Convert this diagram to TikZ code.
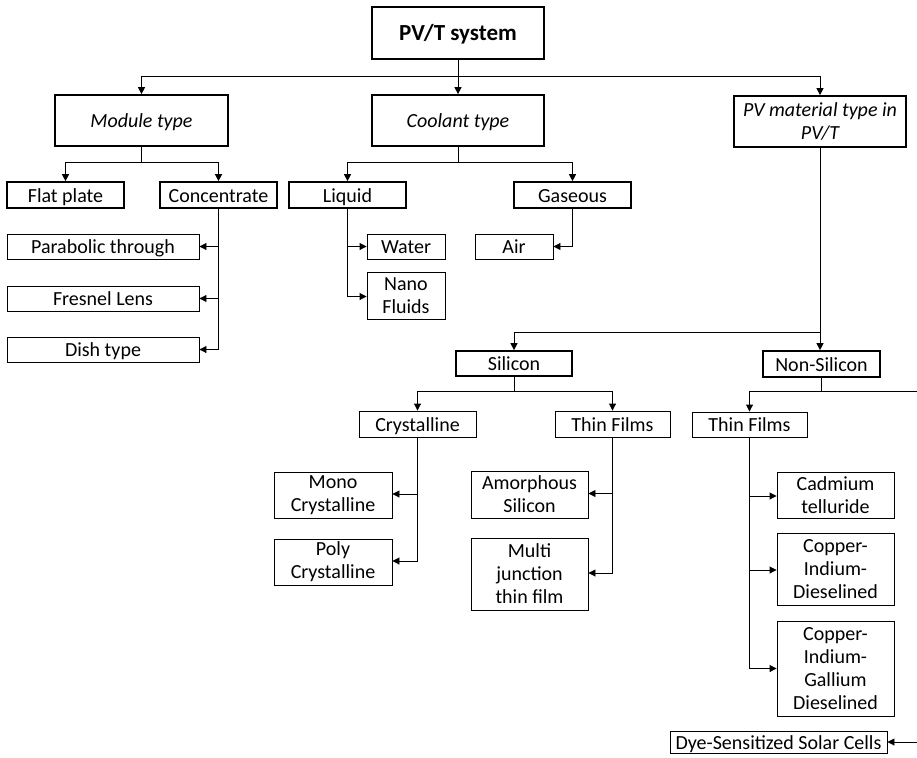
\documentclass[tikz,border=0pt]{standalone}
\usepackage{fontspec}
\setmainfont{Carlito}
\usetikzlibrary{arrows.meta}

\begin{document}
\begin{tikzpicture}[x=1pt, y=-1pt,
    box/.style={draw, line width=0.9pt, inner sep=0pt, align=center, font=\fontsize{20}{23}\selectfont},
    bigbox/.style={box, line width=1.7pt},
    oneline/.style={text height=17pt, text depth=3pt},
    headline/.style={text height=18pt, text depth=3pt, font=\fontsize{20}{23}\selectfont\itshape},
    arr/.style={-{Triangle[length=7pt,width=7pt]}, line width=0.9pt}]
    \useasboundingbox (0,0) rectangle (917,757);
    \clip (0,0) rectangle (917,757);
    % top level
    \node (sys) [bigbox, minimum width=172pt, minimum height=52pt, text height=20pt, text depth=4pt, font=\fontsize{23}{26}\selectfont\bfseries] at (458,33) {PV/T system};
    \node (module) [bigbox, headline, minimum width=173pt, minimum height=51pt] at (141.5,120.5) {Module type};
    \node (coolant) [bigbox, headline, minimum width=172pt, minimum height=51pt] at (458,120.5) {Coolant type};
    \node (pvmat) [bigbox, minimum width=172pt, minimum height=51pt, font=\fontsize{20}{23}\selectfont\itshape] at (820,121.5) {PV material type in\\PV/T};
    \draw[arr] (sys.south) -- ++(0,17) -| (module.north);
    \draw[arr] (sys.south) -- (coolant.north);
    \draw[arr] (sys.south) -- ++(0,17) -| (pvmat.north);
    % module type
    \node (flat) [bigbox, oneline, minimum width=117pt, minimum height=26pt] at (65.5,195) {Flat plate};
    \node (conc) [bigbox, oneline, minimum width=117pt, minimum height=26pt] at (218.5,195) {Concentrate};
    \node (parab) [box, oneline, minimum width=192pt, minimum height=25pt] at (103,246.5) {Parabolic through};
    \node (fresnel) [box, oneline, minimum width=192pt, minimum height=25pt] at (103,298.5) {Fresnel Lens};
    \node (dish) [box, oneline, minimum width=192pt, minimum height=25pt] at (103,349.5) {Dish type};
    \draw[arr] (module.south) -- ++(0,16) -| (flat.north);
    \draw[arr] (module.south) -- ++(0,16) -| (conc.north);
    \draw[arr] (conc.south) |- (parab.east);
    \draw[arr] (conc.south) |- (fresnel.east);
    \draw[arr] (conc.south) |- (dish.east);
    % coolant type
    \node (liquid) [bigbox, oneline, minimum width=117pt, minimum height=26pt] at (347.5,195) {Liquid};
    \node (gaseous) [bigbox, oneline, minimum width=117pt, minimum height=26pt] at (572.5,195) {Gaseous};
    \node (water) [box, oneline, minimum width=78pt, minimum height=25pt] at (406,246.5) {Water};
    \node (nano) [box, minimum width=78pt, minimum height=47pt] at (406,295.5) {Nano\\Fluids};
    \node (air) [box, oneline, minimum width=78pt, minimum height=25pt] at (514,246.5) {Air};
    \draw[arr] (coolant.south) -- ++(0,16) -| (liquid.north);
    \draw[arr] (coolant.south) -- ++(0,16) -| (gaseous.north);
    \draw[arr] (liquid.south) |- (water.west);
    \draw[arr] (liquid.south) |- ([yshift=-1pt]nano.west);
    \draw[arr] (gaseous.south) |- (air.east);
    % PV material
    \node (silicon) [bigbox, oneline, minimum width=116pt, minimum height=25pt] at (514,363.5) {Silicon};
    \node (nonsil) [bigbox, oneline, minimum width=117pt, minimum height=26pt] at (821.5,364) {Non-Silicon};
    \draw[arr] (pvmat.south) -- ++(0,185) -| (silicon.north);
    \draw[arr] (pvmat.south) -- (pvmat.south |- nonsil.north);
    % silicon
    \node (cryst) [box, oneline, minimum width=117pt, minimum height=26pt] at (417.5,424) {Crystalline};
    \node (thinsi) [box, oneline, minimum width=115pt, minimum height=26pt] at (612.5,424) {Thin Films};
    \node (mono) [box, minimum width=118pt, minimum height=46pt] at (333,495) {Mono\\Crystalline};
    \node (poly) [box, minimum width=118pt, minimum height=46pt] at (333,562) {Poly\\Crystalline};
    \node (amorph) [box, minimum width=117pt, minimum height=47pt] at (529.5,494.5) {Amorphous\\Silicon};
    \node (multi) [box, minimum width=117pt, minimum height=72pt] at (529.5,574) {Multi\\junction\\thin film};
    \draw[arr] (silicon.south) -- ++(0,15) -| (cryst.north);
    \draw[arr] (silicon.south) -- ++(0,15) -| (thinsi.north);
    \draw[arr] (cryst.south) |- ([yshift=1pt]mono.east);
    \draw[arr] (cryst.south) |- ([yshift=1pt]poly.east);
    \draw[arr] (thinsi.south) |- ([yshift=1pt]amorph.east);
    \draw[arr] (thinsi.south) |- ([yshift=1pt]multi.east);
    % non-silicon
    \node (thinns) [box, oneline, minimum width=115pt, minimum height=25pt] at (749.5,424.5) {Thin Films};
    \node (cadm) [box, minimum width=117pt, minimum height=46pt] at (835.5,495) {Cadmium\\telluride};
    \node (cid) [box, minimum width=117pt, minimum height=72pt] at (835.5,569) {Copper-\\Indium-\\Dieselined};
    \node (cigd) [box, minimum width=117pt, minimum height=95pt] at (835.5,668.5) {Copper-\\Indium-\\Gallium\\Dieselined};
    \node (dye) [box, oneline, minimum width=217pt, minimum height=22pt] at (778.5,742) {Dye-Sensitized Solar Cells};
    \draw[arr] (nonsil.south) -- ++(0,14) -| (thinns.north);
    \draw[arr] (nonsil.south) -- ++(0,14) -- ++(120,0) |- (dye.east);
    \draw[arr] (thinns.south) |- ([yshift=-1pt]cadm.west);
    \draw[arr] (thinns.south) |- ([yshift=-1pt]cid.west);
    \draw[arr] (thinns.south) |- (cigd.west);
\end{tikzpicture}
\end{document}
